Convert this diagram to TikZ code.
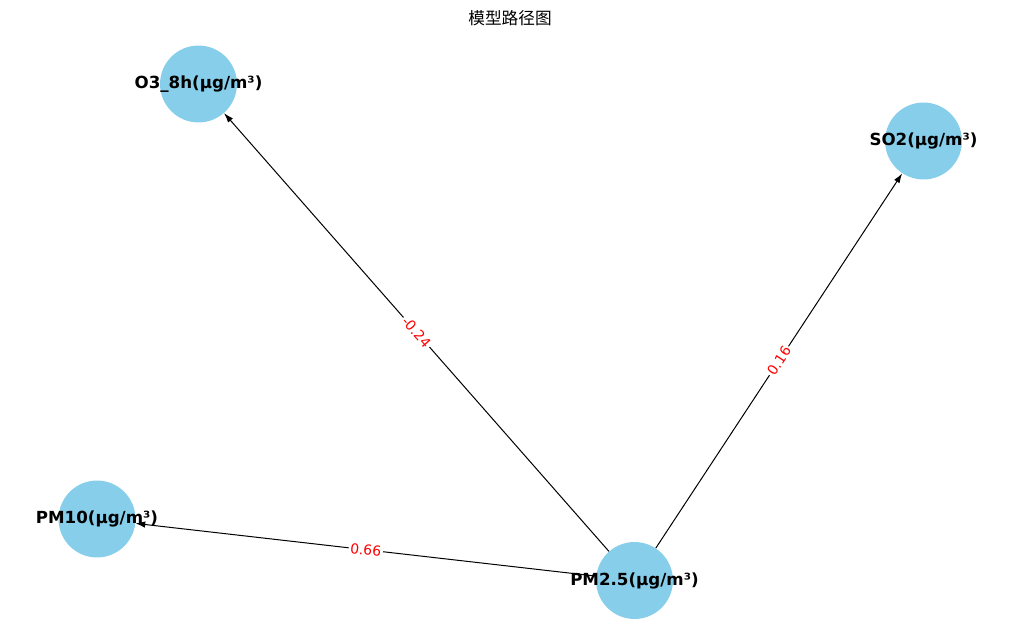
\documentclass[tikz,border=0pt]{standalone}
\usepackage{fontspec}
\setmainfont{DejaVu Sans}
\newfontfamily\cjkfont{Noto Sans CJK SC}
\usetikzlibrary{arrows.meta}
\definecolor{skyblue}{HTML}{87CEEB}

\begin{document}
\begin{tikzpicture}[
    x=0.72pt, y=-0.72pt,
    every node/.style={font=\fontsize{12}{14}\selectfont},
    varnode/.style={circle, fill=skyblue, minimum size=55.4pt, inner sep=0pt},
    effect/.style={-{Latex[length=7pt, width=4.6pt]}, line width=0.72pt},
    weight/.style={sloped, fill=white, inner sep=1.2pt, text=red,
        font=\fontsize{10}{12}\selectfont},
    ]

    \useasboundingbox (0,0) rectangle (1019,642);

    \node (title) at (510,18) {\cjkfont 模型路径图};

    \foreach \name/\x/\y/\txt in {o3/198.5/84/{O3\_8h(μg/m³)},
                                  so2/923.5/141/{SO2(μg/m³)},
                                  pm10/97/519/{PM10(μg/m³)},
                                  pm25/634.5/580.5/{PM2.5(μg/m³)}}{
    \node[varnode, label={[font=\fontsize{12}{14}\selectfont\bfseries]center:\txt}]
        (\name) at (\x,\y) {};
    }

    \foreach \dst/\w in {o3/-0.24, so2/0.16, pm10/0.66}{
    \draw[effect] (pm25) -- node[weight] {\w} (\dst);
    }

\end{tikzpicture}
\end{document}
